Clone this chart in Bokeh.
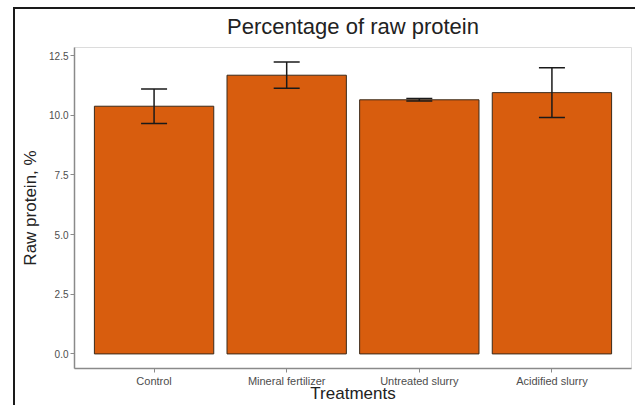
from bokeh.plotting import figure
from bokeh.models import (ColumnDataSource, Range1d, FixedTicker, Whisker, TeeHead,
                          NumeralTickFormatter, InlineStyleSheet)
from bokeh.embed import file_html
from bokeh.resources import INLINE

# ---- data ----
categories = ["Control", "Mineral fertilizer", "Untreated slurry", "Acidified slurry"]
mean_protein = [10.38, 11.68, 10.65, 10.95]
sd_protein = [0.72, 0.55, 0.05, 1.04]
y_ticks = [0.0, 2.5, 5.0, 7.5, 10.0, 12.5]

x_pos = list(range(1, len(categories) + 1))
upper = [m + s for m, s in zip(mean_protein, sd_protein)]
lower = [m - s for m, s in zip(mean_protein, sd_protein)]
src = ColumnDataSource(dict(x=x_pos, cat=categories, mean=mean_protein,
                            upper=upper, lower=lower))

FONT = "Liberation Sans"
ymax = max(upper)
pad = 0.05 * ymax

p = figure(width=635, height=405,
           x_range=Range1d(0.4, len(categories) + 0.6),
           y_range=Range1d(-pad, ymax + pad),
           output_backend="svg", toolbar_location=None,
           min_border_left=74, min_border_right=4,
           min_border_top=47, min_border_bottom=37)

p.background_fill_color = "white"
p.border_fill_color = "white"
p.outline_line_color = "#dcdcdc"
p.outline_line_width = 1
p.grid.visible = False

# outer picture frame (top and left edges only), drawn over the canvas
p.stylesheets = [InlineStyleSheet(css=(
    ":host { position: relative; }"
    ":host::before { content: ''; position: absolute; left: 13px; top: 7px; "
    "width: 2px; bottom: 0; background: #1a1a1a; pointer-events: none; z-index: 10; }"
    ":host::after { content: ''; position: absolute; left: 13px; top: 7px; "
    "right: 0; height: 2px; background: #1a1a1a; pointer-events: none; z-index: 10; }"))]

p.title.text = "Percentage of raw protein"
p.title.align = "center"
p.title.text_font = FONT
p.title.text_font_size = "22px"
p.title.text_font_style = "normal"
p.title.text_color = "#222222"
p.title.standoff = 17

p.vbar(x="x", top="mean", bottom=0, width=0.9, source=src,
       fill_color="#D85D0E", line_color="#3b2a1a", line_width=1)

whisk = Whisker(base="x", upper="upper", lower="lower", source=src, level="overlay",
                line_color="#1a1a1a", line_width=1.5,
                upper_head=TeeHead(size=26, line_color="#1a1a1a", line_width=1.5),
                lower_head=TeeHead(size=26, line_color="#1a1a1a", line_width=1.5))
p.add_layout(whisk)

for ax in (p.xaxis[0], p.yaxis[0]):
    ax.axis_line_color = "#8a8a8a"
    ax.axis_line_width = 1.5
    ax.major_tick_line_color = "#8a8a8a"
    ax.major_tick_line_width = 1
    ax.major_tick_in = 0
    ax.major_tick_out = 4
    ax.minor_tick_line_color = None
    ax.major_label_text_font = FONT
    ax.major_label_text_color = "#4d4d4d"
    ax.major_label_standoff = 2
    ax.axis_label_text_font = FONT
    ax.axis_label_text_font_style = "normal"
    ax.axis_label_text_color = "#222222"

p.xaxis.ticker = FixedTicker(ticks=x_pos)
p.xaxis.major_label_overrides = {xv: c for xv, c in zip(x_pos, categories)}
p.xaxis.major_label_text_font_size = "11px"
p.xaxis.axis_label = "Treatments"
p.xaxis.axis_label_text_font_size = "17px"
p.xaxis.axis_label_standoff = -6

p.yaxis.ticker = FixedTicker(ticks=y_ticks)
p.yaxis.formatter = NumeralTickFormatter(format="0.0")
p.yaxis.major_label_text_font_size = "10px"
p.yaxis.axis_label = "Raw protein, %"
p.yaxis.axis_label_text_font_size = "17px"
p.yaxis.axis_label_standoff = 6

open("out.html", "w").write(file_html(p, INLINE))
